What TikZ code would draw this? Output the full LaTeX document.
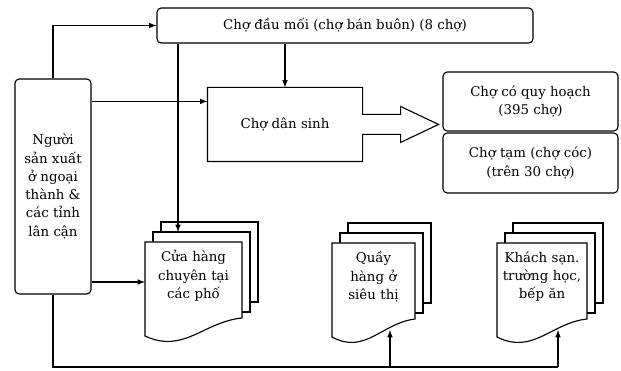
\documentclass[tikz,border=0pt]{standalone}
\usepackage{fontspec}
\setmainfont{DejaVu Serif}
\usetikzlibrary{calc}
\tikzset{
  pics/docstack/.style={code={
    \draw[fill=white] (0.4,0.5) rectangle ++(#1,-2.0);
    \draw[fill=white] (0.2,0.25) rectangle ++(#1,-2.0);
    \draw[fill=white] (0,0) -- (#1,0) -- (#1,-1.9) .. controls (0.6*#1,-2.0) and (0.4*#1,-2.8) .. (0,-2.35) -- cycle;
  }}
}
\begin{document}
\begin{tikzpicture}[>=latex, line width=0.8pt, font=\fontsize{9.5}{13}\selectfont,
    box/.style={draw, rounded corners=3pt, align=center, inner sep=2pt},
    doctext/.style={anchor=north, align=center, inner sep=0pt}]
        \useasboundingbox (0,0) rectangle (15.525,-9.275);

        \node (dauMoi) [box, minimum width=9.4cm, minimum height=0.875cm] at (8.625,-0.6375) {Chợ đầu mối (chợ bán buôn) (8 chợ)};
        \node (nsx) [box, minimum width=1.9cm, minimum height=5.375cm] at (1.325,-4.6625) {Người\\ sản xuất\\ ở ngoại\\ thành \&\\ các tỉnh\\ lân cận};
        \node (danSinh) [minimum width=3.85cm, minimum height=1.825cm] at (7.125,-3.1125) {Chợ dân sinh};
        \node (quyHoach) [box, minimum width=4.375cm, minimum height=1.475cm] at (13.2625,-2.5375) {Chợ có quy hoạch\\ (395 chợ)};
        \node (choTam) [box, minimum width=4.375cm, minimum height=1.5cm] at (13.2625,-4.075) {Chợ tạm (chợ cóc)\\ (trên 30 chợ)};

        % block arrow of Cho dan sinh
        \draw (danSinh.north west) -- (danSinh.north east) -- ++(0,-0.675) -- ++(0.95,0) -- ++(0,0.2) -- ++(0.95,-0.45) -- ++(-0.95,-0.45) -- ++(0,0.2) -- ++(-0.95,0) |- (danSinh.south west) -- cycle;

        \pic at (3.625,-6.05) {docstack=2.425};
        \pic at (8.3,-6.075) {docstack=2.075};
        \pic at (12.425,-6.075) {docstack=2.25};
        \node (cuaHang) [doctext, text width=2.425cm] at (4.8375,-6.25) {Cửa hàng\\ chuyên tại\\ các phố};
        \node (quay) [doctext, text width=2.075cm] at (9.3375,-6.275) {Quầy\\ hàng ở\\ siêu thị};
        \node (khachSan) [doctext, text width=2.25cm] at (13.55,-6.275) {Khách sạn.\\ trường học,\\ bếp ăn};

        \coordinate (dsIn) at ([yshift=-0.35cm]danSinh.north west);
        \coordinate (cuaTop) at (4.45,-5.8);
        \coordinate (cuaLeft) at (3.625,-7.05);
        \coordinate (quayBot) at (9.75,-8.25);
        \coordinate (khachBot) at (13.95,-8.25);
        \coordinate (bus) at (1.375,-9.175);

        \draw[->] (nsx.north) |- (dauMoi.west);
        \draw[->] (nsx.east |- dsIn) -- (dsIn);
        \draw[->] (dauMoi.south -| danSinh.north) -- (danSinh.north);
        \draw[->] (dauMoi.south -| cuaTop) -- (cuaTop);
        \draw[->] (nsx.east |- cuaLeft) -- (cuaLeft);
        \draw (nsx.south) |- (khachBot |- bus);
        \draw[->] (quayBot |- bus) -- (quayBot);
        \draw[->] (khachBot |- bus) -- (khachBot);
      \end{tikzpicture}
\end{document}
